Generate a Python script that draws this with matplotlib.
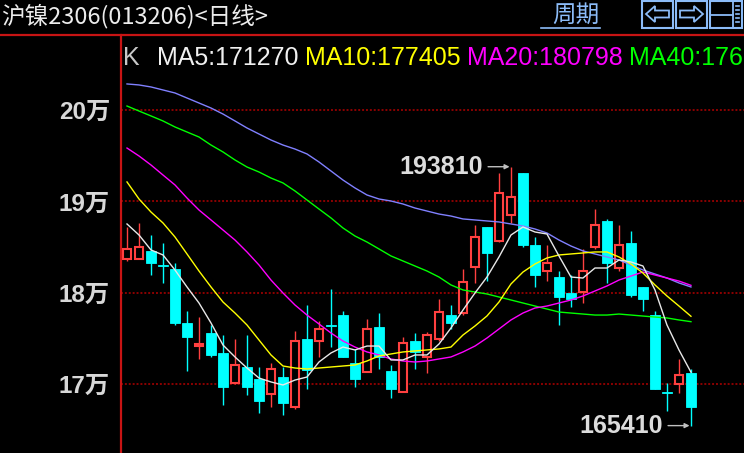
import numpy as np
import matplotlib
matplotlib.use('Agg')
import matplotlib.pyplot as plt
from matplotlib.lines import Line2D
from matplotlib.patches import Polygon, Rectangle

# 沪镍2306 daily bars (price in yuan)
opens = [183720, 183720, 184560, 183000, 182590, 176670, 174140, 175570, 173380, 170120,
         171870, 170520, 168850, 170710, 167490, 174910, 174730, 176420, 177540, 172250,
         171260, 176200, 171400, 169100, 174690, 172970, 174950, 177510, 177800, 182840,
         187200, 185700, 188550, 193090, 185190, 182400, 181710, 179930, 180070, 185040,
         187860, 182650, 185440, 180580, 177540, 169100, 169940, 171180]
highs = [187230, 187600, 186320, 185440, 183220, 177980, 177330, 176450, 175350, 174910,
         175350, 171810, 172250, 171870, 175790, 178640, 176890, 180400, 177980, 173780,
         177110, 177730, 172060, 175100, 175540, 175710, 179270, 178610, 182560, 187420,
         187250, 193090, 193810, 193100, 186070, 185190, 182340, 181930, 184750, 189140,
         188040, 187420, 186760, 180600, 177980, 170090, 172720, 171590]
lows = [183500, 183650, 181930, 181090, 176450, 171430, 172720, 172970, 167670, 170030,
        168770, 166830, 167490, 166570, 167230, 169460, 172900, 174070, 172940, 169680,
        171240, 171620, 168410, 169080, 171650, 171220, 174730, 176040, 177540, 181090,
        181270, 185550, 187670, 185040, 180650, 181310, 176480, 178460, 178890, 184750,
        181090, 182400, 179550, 177980, 169400, 167050, 169020, 165410]
closes = [184750, 184970, 183280, 182920, 176700, 175160, 174310, 173190, 169680, 172060,
          169680, 168140, 171590, 167920, 174660, 171510, 175980, 176340, 172970, 170560,
          175980, 172970, 169460, 174440, 173450, 175320, 177910, 176700, 181200, 186070,
          184380, 190900, 190460, 185260, 181970, 183220, 179550, 179330, 182340, 187390,
          183280, 185190, 179740, 179330, 169460, 168990, 170960, 167490]

# moving averages
ma5 = [187530, 186320, 184680, 184130, 182480, 180620, 178860, 176670, 174250, 172940,
       171730, 170630, 170200, 169870, 170410, 170740, 172390, 173380, 174030, 173710,
       174140, 174140, 172610, 172610, 173160, 173160, 174360, 176120, 178090, 179960,
       181710, 183910, 186320, 187200, 186650, 186430, 184020, 181710, 181600, 182700,
       182700, 183580, 183360, 182920, 180290, 176450, 173710, 171270]
ma10 = [192140, 190270, 188840, 187640, 186100, 184240, 182370, 180620, 178970, 177760,
        176450, 174800, 173160, 171950, 171730, 171620, 171730, 171840, 171950, 172060,
        172500, 173050, 173270, 173490, 173600, 173710, 173820, 174030, 175350, 176340,
        177440, 178970, 180950, 182260, 183140, 183800, 184130, 184240, 184350, 184460,
        184460, 183910, 183140, 182150, 180840, 179630, 178530, 177405]
ma20 = [195860, 194990, 194000, 192900, 191810, 190380, 189060, 187970, 186870, 185770,
        184460, 183030, 181380, 179960, 178640, 177540, 176560, 175570, 174690, 174030,
        173490, 173160, 172720, 172500, 172390, 172500, 172720, 172940, 173490, 174140,
        175020, 176010, 177000, 177760, 178310, 178530, 178860, 179190, 179630, 180180,
        180730, 181380, 181820, 182260, 181930, 181600, 181270, 180798]
ma40 = [200470, 199920, 199380, 198830, 198170, 197620, 197070, 196190, 195430, 194550,
        193780, 193230, 192570, 192030, 191150, 190160, 189170, 188190, 187090, 186210,
        185550, 184790, 184020, 183470, 182920, 182370, 181710, 180840, 180290, 180070,
        179850, 179520, 179190, 178860, 178530, 178200, 177870, 177760, 177650, 177540,
        177540, 177650, 177540, 177430, 177320, 177220, 177000, 176812]
ma60 = [202890, 202780, 202560, 202230, 201900, 201350, 200800, 200250, 199590, 198830,
        198060, 197400, 196740, 196190, 195750, 195210, 194330, 193340, 192350, 191480,
        190710, 190270, 190050, 189720, 189280, 188950, 188620, 188400, 188080, 187970,
        187860, 187750, 187530, 187310, 186980, 186540, 185770, 185110, 184570, 184240,
        183910, 183580, 183030, 182480, 182040, 181600, 181060, 180620]

ytick_vals = [170000, 180000, 190000, 200000]
ytick_labels = ['17万', '18万', '19万', '20万']
title = '沪镍2306(013206)<日线>'

RED = '#ff4040'
CYAN = '#00ffff'
AXRED = '#c81414'
BLUE_UI = '#8cbcf8'

plt.rcParams['font.family'] = ['Liberation Sans', 'Noto Sans CJK SC', 'DejaVu Sans']

W, H = 744, 453
def fx(px):
    return px / W
def fy(py):
    return 1 - py / H

fig = plt.figure(figsize=(W / 100, H / 100), dpi=100, facecolor='black')
ax = fig.add_axes([fx(121), 0, 1 - fx(121), fy(35)])
ax.set_facecolor('black')

o = np.array(opens); c = np.array(closes)
hi = np.array(highs); lo = np.array(lows)
x = np.arange(len(c))
up = c >= o

ax.vlines(x[up], lo[up], hi[up], color=RED, lw=1.0, zorder=2)
ax.vlines(x[~up], lo[~up], hi[~up], color=CYAN, lw=1.0, zorder=2)
ax.bar(x[up], (c - o)[up], bottom=o[up], width=0.70, facecolor='black',
       edgecolor=RED, linewidth=1.5, zorder=3)
ax.bar(x[~up], (c - o)[~up], bottom=o[~up], width=0.82, color=CYAN,
       edgecolor=CYAN, linewidth=0.6, zorder=3)

ax.plot(x, ma60, color='#8080ff', lw=1.0, zorder=4)
ax.plot(x, ma40, color='#00ff00', lw=1.0, zorder=4)
ax.plot(x, ma20, color='#ff00ff', lw=1.0, zorder=4)
ax.plot(x, ma10, color='#ffff00', lw=1.0, zorder=4)
ax.plot(x, ma5, color='#e8e8e8', lw=1.0, zorder=5)

ax.set_xlim(-0.5, 51.42)
ax.set_ylim(162406, 208260)
ax.set_xticks([])
ax.set_yticks(ytick_vals)
ax.set_yticklabels(ytick_labels)
ax.tick_params(axis='y', length=0, pad=8, labelcolor='#d8d8d8', labelsize=17.5)
for t in ax.get_yticklabels():
    t.set_fontweight('bold')
ax.grid(axis='y', color='#8b0000', linestyle=(0, (1, 1)), linewidth=1.4)
ax.set_axisbelow(True)
for s in ['top', 'right', 'bottom']:
    ax.spines[s].set_visible(False)
ax.spines['left'].set_color(AXRED)
ax.spines['left'].set_linewidth(1.6)

# max / min markers
hi_i = int(np.argmax(hi)); lo_i = int(np.argmin(lo))
for i, v in [(hi_i, hi[hi_i]), (lo_i, lo[lo_i])]:
    ax.annotate(f'{v}', xy=(i, v), xytext=(-20, 0), textcoords='offset points',
                ha='right', va='center', fontsize=18, fontweight='bold', color='#dcdcdc')
    ax.annotate('', xy=(i, v), xytext=(-16.5, 0), textcoords='offset points',
                arrowprops=dict(arrowstyle='-|>', color='#c0c0c0', lw=1.0,
                                mutation_scale=7, shrinkA=0, shrinkB=1))

# header
fig.add_artist(Line2D([0, 1], [fy(35), fy(35)], color=AXRED, lw=1.6))
fig.text(fx(1), fy(16), title, family=['Noto Sans CJK SC', 'DejaVu Sans'],
         fontsize=17, color='#ececec', va='center')
fig.text(fx(552), fy(15), '周期', family=['Noto Sans CJK SC'], fontsize=17,
         color=BLUE_UI, va='center')
fig.add_artist(Line2D([fx(541), fx(600)], [fy(27.5), fy(27.5)], color=BLUE_UI, lw=1.2))

for bx0, bx1 in [(642, 673), (676, 707), (710, 742)]:
    fig.add_artist(Rectangle((fx(bx0), fy(28)), (bx1 - bx0) / W, 27 / H,
                             transform=fig.transFigure, fill=False,
                             edgecolor=BLUE_UI, lw=1.5))
left_arrow = [(646, 14), (655, 6), (655, 10.5), (669, 10.5), (669, 17.5), (655, 17.5), (655, 22)]
right_arrow = [(703, 14), (694, 6), (694, 10.5), (680, 10.5), (680, 17.5), (694, 17.5), (694, 22)]
for pts in [left_arrow, right_arrow]:
    fig.add_artist(Polygon([(fx(a), fy(b)) for a, b in pts], closed=True,
                           transform=fig.transFigure, fill=False,
                           edgecolor=BLUE_UI, lw=1.3))
fig.add_artist(Line2D([fx(711), fx(733)], [fy(14.5), fy(14.5)], color=BLUE_UI, lw=1.3))
fig.add_artist(Line2D([fx(733), fx(733)], [fy(2), fy(27)], color=BLUE_UI, lw=1.3))
for yy in [6, 10, 14, 18, 22]:
    fig.add_artist(Line2D([fx(736), fx(739)], [fy(yy), fy(yy)], color=BLUE_UI, lw=1.2))

# MA legend row
legend = [('K', '#c8c8c8', 123),
          (f'MA5:{ma5[-1]}', '#f0f0f0', 157),
          (f'MA10:{ma10[-1]}', '#ffff00', 305),
          (f'MA20:{ma20[-1]}', '#ff00ff', 467),
          (f'MA40:{ma40[-1]}', '#00ff00', 629)]
for txt, col, px in legend:
    fig.text(fx(px), fy(65), txt, fontsize=18, color=col, va='baseline')

fig.savefig('out.png', dpi=100, facecolor='black')
